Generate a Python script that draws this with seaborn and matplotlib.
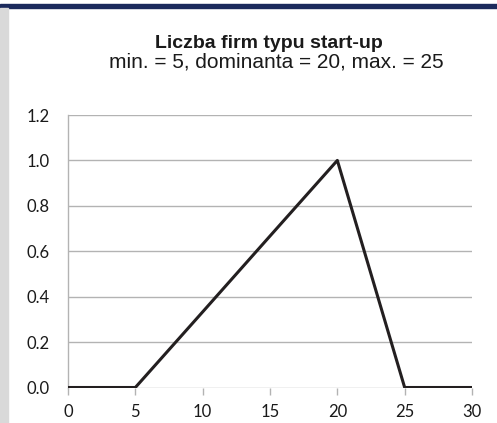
import matplotlib
matplotlib.use("Agg")
import matplotlib.pyplot as plt
import seaborn as sns
import pandas as pd
from matplotlib.patches import Rectangle

# Data
x_vals = [0, 5, 10, 15, 20, 25, 30]
y_vals = [0.0, 0.0, 0.333, 0.667, 1.0, 0.0, 0.0]
x_ticks = [0, 5, 10, 15, 20, 25, 30]
y_ticks = [0.0, 0.2, 0.4, 0.6, 0.8, 1.0, 1.2]
title = "Liczba firm typu start-up"
subtitle = "min. = 5, dominanta = 20, max. = 25"

df = pd.DataFrame({"x": x_vals, "y": y_vals})

sns.set_style("white")
plt.rcParams["font.family"] = ["Lato", "DejaVu Sans"]

fig = plt.figure(figsize=(4.97, 4.23), dpi=100)
ax = fig.add_axes([68 / 497, (423 - 387.5) / 423, (472 - 68) / 497, (387.5 - 115) / 423])

# frame decoration
fig.patches.append(Rectangle((0, 1 - 8 / 423), 1, 4 / 423, transform=fig.transFigure,
                             color="#1b2a5c", zorder=0))
fig.patches.append(Rectangle((0, 0), 8 / 497, 1 - 8 / 423, transform=fig.transFigure,
                             color="#d9d9d9", zorder=0))

sns.lineplot(data=df, x="x", y="y", ax=ax, color="#231f20", linewidth=2.2, zorder=3)

ax.set_xlim(0, 30)
ax.set_ylim(0, 1.2)
ax.set_xticks(x_ticks)
ax.set_yticks(y_ticks)
ax.set_yticklabels([f"{v:.1f}" for v in y_ticks])
ax.set_xlabel("")
ax.set_ylabel("")
ax.grid(axis="y", color="#b3b3b3", linewidth=1)
ax.set_axisbelow(True)
for s in ["top", "right", "bottom"]:
    ax.spines[s].set_visible(False)
ax.spines["left"].set_color("#b3b3b3")
ax.spines["left"].set_linewidth(1)
ax.tick_params(axis="y", length=6, width=1, color="#b3b3b3", pad=7, labelsize=12, labelcolor="#1a1a1a")
ax.tick_params(axis="x", length=5, width=1, color="#b3b3b3", pad=7, labelsize=12, labelcolor="#1a1a1a",
               bottom=True)

fig.text(269 / 497, 1 - 48 / 423, title, ha="center", va="baseline", fontsize=14,
         fontweight="bold", family="Liberation Sans", color="#1a1a1a")
fig.text(276 / 497, 1 - 68 / 423, subtitle, ha="center", va="baseline", fontsize=15,
         family="Liberation Sans", color="#1a1a1a")

fig.savefig("out.png", dpi=100)
